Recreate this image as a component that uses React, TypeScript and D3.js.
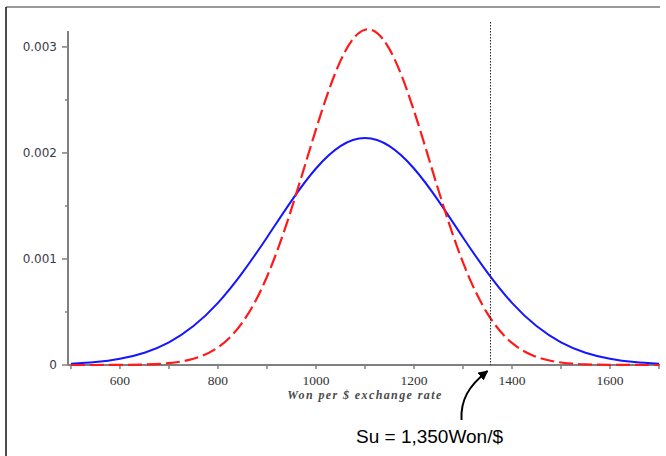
import { useEffect, useRef } from "react";
import * as d3 from "d3";

// exchange rate (Won per $)
const rates = [
  500, 550, 600, 650, 700, 750, 800, 850, 900, 950, 1000, 1050, 1100,
  1150, 1200, 1250, 1300, 1350, 1400, 1450, 1500, 1550, 1600, 1650, 1700,
];

// wider distribution (solid blue)
const wideDensity = [
  0.000012, 0.0000275, 0.0000587, 0.000116, 0.000214, 0.000367, 0.000586,
  0.000871, 0.001203, 0.001548, 0.001853, 0.002064, 0.00214, 0.002064,
  0.001853, 0.001548, 0.001203, 0.000871, 0.000586, 0.000367, 0.000214,
  0.000116, 0.0000587, 0.0000275, 0.000012,
];

// narrower distribution (dashed red)
const narrowDensity = [
  0.00000003, 0.0000002, 0.000001, 0.0000045, 0.0000176, 0.0000585, 0.000166,
  0.000402, 0.000832, 0.001472, 0.002222, 0.002868, 0.003162, 0.002979,
  0.002398, 0.001648, 0.000967, 0.000485, 0.000208, 0.0000762, 0.0000238,
  0.0000064, 0.0000015, 0.0000003, 0.00000005,
];

const xTicks = [500, 600, 700, 800, 900, 1000, 1100, 1200, 1300, 1400, 1500, 1600, 1700];
const xLabels = [600, 800, 1000, 1200, 1400, 1600];
const yMajor = [0, 0.001, 0.002, 0.003];
const yMinor = [0.0005, 0.0015, 0.0025];

const spotRate = 1356;

const W = 666;
const H = 456;

export default function App() {
  const ref = useRef<SVGSVGElement | null>(null);

  useEffect(() => {
    if (!ref.current) return;
    const svg = d3.select(ref.current);
    svg.selectAll("*").remove();

    const x = d3.scaleLinear().domain([494, 1700]).range([68, 659]);
    const y = d3.scaleLinear().domain([0, 0.00315]).range([365, 31]);
    const axisColor = "#808080";

    // frame
    svg.append("line").attr("x1", 6).attr("x2", 660).attr("y1", 7).attr("y2", 7)
      .attr("stroke", "#777").attr("stroke-width", 1.5);
    svg.append("line").attr("x1", 6).attr("x2", 6).attr("y1", 7).attr("y2", H)
      .attr("stroke", "#111").attr("stroke-width", 1.5);

    // axes
    svg.append("line").attr("x1", x(494)).attr("x2", x(494)).attr("y1", y(0.00315)).attr("y2", y(0))
      .attr("stroke", axisColor).attr("stroke-width", 2);
    svg.append("line").attr("x1", x(494)).attr("x2", x(1700) + 1).attr("y1", y(0)).attr("y2", y(0))
      .attr("stroke", axisColor).attr("stroke-width", 2);

    svg.append("g").selectAll("line").data(xTicks).join("line")
      .attr("x1", (d) => x(d)).attr("x2", (d) => x(d))
      .attr("y1", y(0)).attr("y2", y(0) + 4)
      .attr("stroke", axisColor).attr("stroke-width", 1.5);

    svg.append("g").selectAll("text").data(xLabels).join("text")
      .attr("x", (d) => x(d)).attr("y", y(0) + 20)
      .attr("text-anchor", "middle")
      .attr("font-family", "'Liberation Serif', serif").attr("font-size", 13.5)
      .attr("fill", "#333")
      .text((d) => String(d));

    svg.append("g").selectAll("line").data(yMajor).join("line")
      .attr("x1", x(494) - 6).attr("x2", x(494))
      .attr("y1", (d) => y(d)).attr("y2", (d) => y(d))
      .attr("stroke", axisColor).attr("stroke-width", 1.5);
    svg.append("g").selectAll("line").data(yMinor).join("line")
      .attr("x1", x(494) - 3).attr("x2", x(494))
      .attr("y1", (d) => y(d)).attr("y2", (d) => y(d))
      .attr("stroke", axisColor).attr("stroke-width", 1.5);

    svg.append("g").selectAll("text").data(yMajor).join("text")
      .attr("x", 57).attr("y", (d) => y(d) + 4)
      .attr("text-anchor", "end")
      .attr("font-family", "'DejaVu Sans', sans-serif").attr("font-size", 12)
      .attr("fill", "#3a3a4a")
      .text((d) => (d === 0 ? "0" : d.toFixed(3)));

    svg.append("text")
      .attr("x", 365).attr("y", 399)
      .attr("text-anchor", "middle")
      .attr("font-family", "'Liberation Serif', serif").attr("font-size", 12)
      .attr("font-style", "italic").attr("font-weight", "bold").attr("letter-spacing", 1.4)
      .attr("fill", "#4a4a4a")
      .text("Won per $ exchange rate");

    // curves
    const line = (vals: number[]) =>
      d3.line<number>()
        .x((_, i) => x(rates[i]))
        .y((d) => y(d))
        .curve(d3.curveNatural)(vals);

    svg.append("path").attr("d", line(wideDensity))
      .attr("fill", "none").attr("stroke", "#1515ff").attr("stroke-width", 2);
    svg.append("path").attr("d", line(narrowDensity))
      .attr("fill", "none").attr("stroke", "#ff1a1a").attr("stroke-width", 2.2)
      .attr("stroke-dasharray", "14 5");

    // spot rate marker
    const sx = Math.round(x(spotRate)) + 0.5;
    svg.append("line").attr("x1", sx).attr("x2", sx).attr("y1", 22).attr("y2", y(0))
      .attr("stroke", "#222").attr("stroke-width", 1).attr("stroke-dasharray", "1.5 1.5");

    // annotation arrow
    svg.append("defs").append("marker")
      .attr("id", "head").attr("viewBox", "0 0 10 10")
      .attr("refX", 9).attr("refY", 5)
      .attr("markerWidth", 5).attr("markerHeight", 5)
      .attr("orient", "auto")
      .append("path").attr("d", "M0,0 L10,5 L0,10 Z").attr("fill", "#000");

    svg.append("path")
      .attr("d", `M${sx - 29},420 C${sx - 30},400 ${sx - 22},386 ${sx - 3},371`)
      .attr("fill", "none").attr("stroke", "#000").attr("stroke-width", 2)
      .attr("marker-end", "url(#head)");

    svg.append("text")
      .attr("x", 356).attr("y", 443)
      .attr("font-family", "'Liberation Sans', Arial, sans-serif").attr("font-size", 19)
      .attr("fill", "#000")
      .text("Su = 1,350Won/$");
  }, []);

  return (
    <div style={{ position: "fixed", left: 0, top: 0, width: W, height: H, background: "#fff" }}>
      <svg ref={ref} width={W} height={H} style={{ display: "block" }} />
    </div>
  );
}
